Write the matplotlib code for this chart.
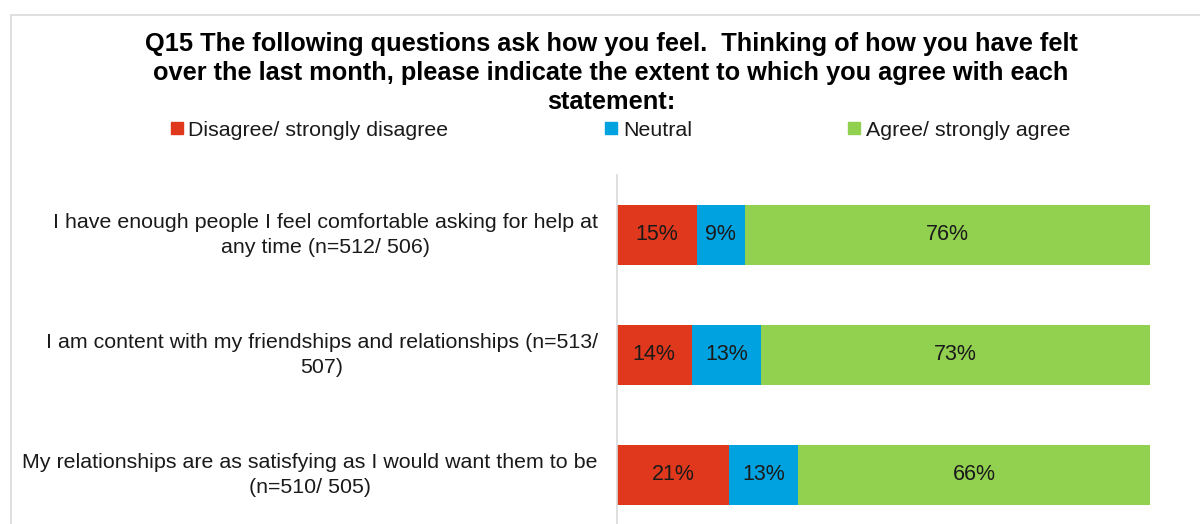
import matplotlib
matplotlib.use("Agg")
import matplotlib.pyplot as plt
from matplotlib.patches import Rectangle
from matplotlib.lines import Line2D

plt.rcParams['font.family'] = ['Liberation Sans', 'DejaVu Sans']

title = ("Q15 The following questions ask how you feel.  Thinking of how you have felt\n"
         "over the last month, please indicate the extent to which you agree with each\n"
         "statement:")
categories = [
    "I have enough people I feel comfortable asking for help at\nany time (n=512/ 506)",
    "I am content with my friendships and relationships (n=513/\n507)",
    "My relationships are as satisfying as I would want them to be\n(n=510/ 505)",
]
series_names = ["Disagree/ strongly disagree", "Neutral", "Agree/ strongly agree"]
disagree = [15, 14, 21]
neutral = [9, 13, 13]
agree = [76, 73, 66]
colors = ["#E0381C", "#00A3E0", "#92D050"]

W, H = 1200, 524
fig = plt.figure(figsize=(W / 100, H / 100), dpi=100)

# outer chart frame (cut off at right and bottom)
fig.patches.append(Rectangle((10.5 / W, -0.1), 1.2, 1 - 14.5 / H + 0.1,
                             transform=fig.transFigure, fill=False,
                             edgecolor="#D9D9D9", linewidth=1.2, zorder=0))

ax = fig.add_axes([617 / W, (H - 535) / H, 533 / W, 360 / H])
series = [disagree, neutral, agree]
ypos = list(range(len(categories)))
left = [0] * len(categories)
for vals, col, name in zip(series, colors, series_names):
    ax.barh(ypos, vals, left=left, height=0.5, color=col, label=name)
    for y, v, l in zip(ypos, vals, left):
        ax.text(l + v / 2, y, f"{v}%", ha="center", va="center",
                fontsize=15.5, color="#1a1a1a")
    left = [a + b for a, b in zip(left, vals)]

ax.set_xlim(0, 100)
ax.set_ylim(len(categories) - 0.5, -0.5)
ax.set_yticks(ypos)
ax.set_yticklabels(categories, fontsize=15.4, color="#1a1a1a", va="center")
for lab in ax.get_yticklabels():
    lab.set_multialignment("center")
    lab.set_linespacing(1.38)
ax.tick_params(axis="y", length=0, pad=13.7)
ax.set_xticks([])
for s in ["top", "right", "bottom"]:
    ax.spines[s].set_visible(False)
ax.spines["left"].set_color("#D9D9D9")
ax.spines["left"].set_linewidth(1.2)

fig.text(611 / W, 1 - 73 / H, title, ha="center", va="center",
         fontsize=18.3, fontweight="bold", linespacing=1.26, color="#000000")

handles = [Line2D([], [], marker="s", linestyle="none", markersize=8,
                  markerfacecolor=c, markeredgecolor=c) for c in colors]
fig.legend(handles, series_names, loc="center", bbox_to_anchor=(621 / W, 1 - 130 / H),
           ncol=3, frameon=False, fontsize=15.4, handlelength=0.5,
           handletextpad=0.3, columnspacing=7.35, labelcolor="#1a1a1a")

fig.savefig("out.png", dpi=100)
